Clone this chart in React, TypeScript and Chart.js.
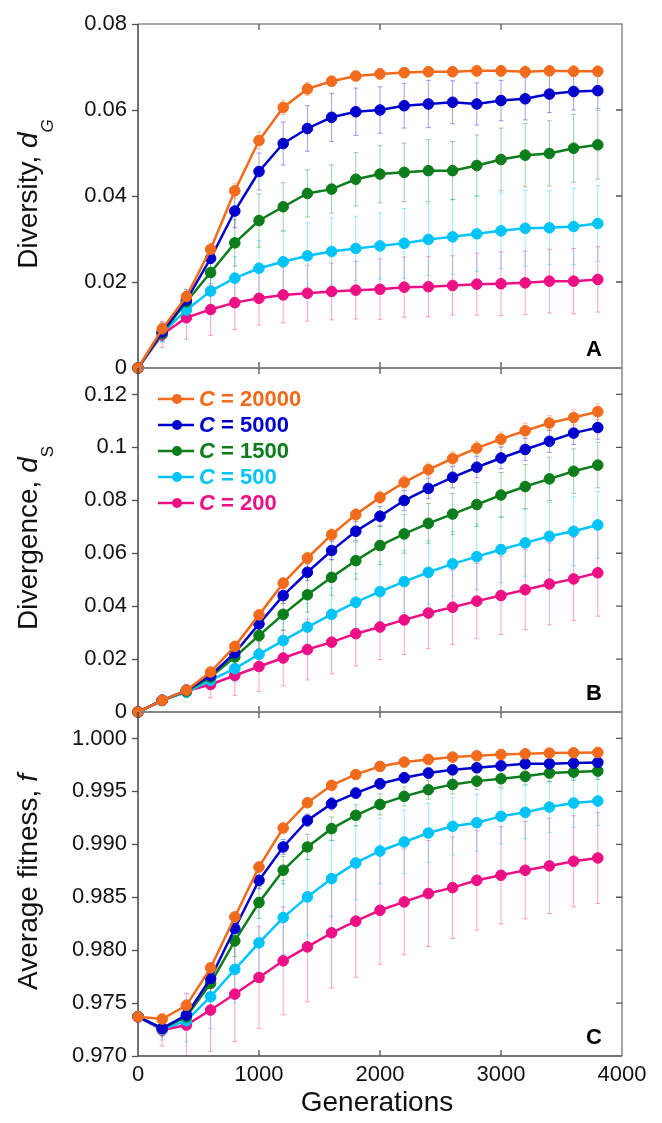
import React, { useEffect, useRef } from 'react';
import { Chart, registerables } from 'chart.js';

Chart.register(...registerables);

const FONT = '"Liberation Sans", Arial, Helvetica, sans-serif';

// ---------- data ----------
const generations = [0, 200, 400, 600, 800, 1000, 1200, 1400, 1600, 1800, 2000, 2200, 2400, 2600, 2800, 3000, 3200, 3400, 3600, 3800];
const xTickValues = [0, 1000, 2000, 3000, 4000];

const seriesNames = ['20000', '5000', '1500', '500', '200'];
const seriesColors = ['#f26a1b', '#0000cd', '#0b7d1b', '#00c3f7', '#ec0f86'];

// Panel A: diversity d_G
const diversity20000 = [0, 0.0091, 0.0166, 0.0276, 0.0412, 0.0529, 0.0606, 0.0649, 0.0667, 0.0679, 0.0684, 0.0687, 0.0689, 0.0689, 0.0691, 0.0691, 0.0689, 0.0691, 0.069, 0.069];
const diversity5000 = [0, 0.0084, 0.0158, 0.0255, 0.0365, 0.0457, 0.0522, 0.0557, 0.0583, 0.0596, 0.06, 0.061, 0.0614, 0.0618, 0.0614, 0.0622, 0.0626, 0.0637, 0.0643, 0.0645];
const diversity1500 = [0, 0.0081, 0.0154, 0.0222, 0.0291, 0.0343, 0.0375, 0.0406, 0.0416, 0.0439, 0.0451, 0.0455, 0.0459, 0.0459, 0.0471, 0.0485, 0.0495, 0.0499, 0.0511, 0.0519];
const diversity500 = [0, 0.0081, 0.0135, 0.0179, 0.0209, 0.0232, 0.0247, 0.0261, 0.0271, 0.0278, 0.0284, 0.029, 0.0299, 0.0305, 0.0312, 0.0319, 0.0325, 0.0326, 0.0329, 0.0336];
const diversity200 = [0, 0.0078, 0.0117, 0.0136, 0.0152, 0.0162, 0.017, 0.0174, 0.0178, 0.0181, 0.0183, 0.0188, 0.0189, 0.0192, 0.0195, 0.0196, 0.0198, 0.0202, 0.0202, 0.0206];

const diversityErr20000 = [0, 0.0015, 0.0012, 0.0015, 0.0018, 0.002, 0.0017, 0.0015, 0.0012, 0.0011, 0.0012, 0.0012, 0.0012, 0.0012, 0.0013, 0.0013, 0.0013, 0.0012, 0.0012, 0.0012];
const diversityErr5000 = [0, 0.002, 0.0025, 0.003, 0.0039, 0.0043, 0.005, 0.0053, 0.0056, 0.0055, 0.0054, 0.0052, 0.0055, 0.005, 0.0049, 0.0047, 0.0049, 0.0043, 0.0043, 0.0042];
const diversityErr1500 = [0, 0.002, 0.0025, 0.004, 0.0054, 0.0062, 0.0056, 0.0055, 0.0056, 0.0062, 0.0067, 0.0068, 0.0072, 0.0068, 0.0071, 0.0073, 0.0074, 0.0076, 0.0079, 0.008];
const diversityErr500 = [0, 0.002, 0.003, 0.004, 0.005, 0.0065, 0.007, 0.0077, 0.0078, 0.0075, 0.0077, 0.0081, 0.0084, 0.0087, 0.0087, 0.0088, 0.0088, 0.0086, 0.0089, 0.0088];
const diversityErr200 = [0, 0.003, 0.005, 0.006, 0.0063, 0.0062, 0.0065, 0.0065, 0.0066, 0.0067, 0.007, 0.007, 0.007, 0.0069, 0.0072, 0.0074, 0.0074, 0.0074, 0.0076, 0.0076];

// Panel B: divergence d_S
const divergence20000 = [0, 0.0044, 0.0082, 0.0151, 0.0248, 0.0367, 0.0487, 0.0582, 0.067, 0.0746, 0.0811, 0.0868, 0.0916, 0.0958, 0.0997, 0.1031, 0.1063, 0.1092, 0.1113, 0.1135];
const divergence5000 = [0, 0.0044, 0.0082, 0.0138, 0.0223, 0.0333, 0.044, 0.0528, 0.061, 0.0683, 0.074, 0.0799, 0.0845, 0.0887, 0.0925, 0.096, 0.0992, 0.1023, 0.1054, 0.1075];
const divergence1500 = [0, 0.0044, 0.0079, 0.0132, 0.0208, 0.0289, 0.0369, 0.0443, 0.0509, 0.0572, 0.0629, 0.0673, 0.0713, 0.0748, 0.0784, 0.082, 0.0852, 0.0881, 0.091, 0.0933];
const divergence500 = [0, 0.0044, 0.0075, 0.012, 0.0164, 0.0218, 0.027, 0.0321, 0.0369, 0.0415, 0.0455, 0.0493, 0.0528, 0.056, 0.0587, 0.0614, 0.0639, 0.0664, 0.0683, 0.0707];
const divergence200 = [0, 0.0044, 0.0079, 0.0104, 0.0138, 0.0172, 0.0204, 0.0236, 0.0264, 0.0296, 0.0321, 0.0348, 0.0374, 0.0396, 0.0419, 0.044, 0.0462, 0.0484, 0.0503, 0.0526];

const divergenceErr20000 = [0, 0.0008, 0.001, 0.0012, 0.0015, 0.0018, 0.002, 0.0022, 0.0022, 0.0023, 0.0024, 0.0025, 0.0025, 0.0026, 0.0027, 0.0027, 0.0028, 0.0028, 0.0029, 0.003];
const divergenceErr5000 = [0, 0.0008, 0.0012, 0.0015, 0.002, 0.0025, 0.003, 0.0032, 0.0035, 0.0036, 0.0037, 0.0038, 0.0039, 0.004, 0.004, 0.0041, 0.0042, 0.0042, 0.0043, 0.0044];
const divergenceErr1500 = [0, 0.001, 0.0015, 0.0025, 0.004, 0.005, 0.006, 0.0065, 0.0068, 0.007, 0.0072, 0.0073, 0.0075, 0.0078, 0.0083, 0.0085, 0.0083, 0.0082, 0.0084, 0.0086];
const divergenceErr500 = [0, 0.001, 0.002, 0.0035, 0.005, 0.0065, 0.0078, 0.009, 0.01, 0.0108, 0.0113, 0.0117, 0.012, 0.0122, 0.0124, 0.0125, 0.0126, 0.0128, 0.013, 0.0126];
const divergenceErr200 = [0, 0.001, 0.0025, 0.005, 0.0075, 0.0095, 0.0105, 0.0115, 0.012, 0.0122, 0.0123, 0.0131, 0.0135, 0.0141, 0.0142, 0.0147, 0.0151, 0.0155, 0.0157, 0.0164];

// Panel C: average fitness f
const fitness20000 = [0.97371, 0.97349, 0.97478, 0.97833, 0.98314, 0.98786, 0.99154, 0.99393, 0.99557, 0.9966, 0.99736, 0.99777, 0.99802, 0.99824, 0.99836, 0.99849, 0.99855, 0.99862, 0.99865, 0.99868];
const fitness5000 = [0.97371, 0.97261, 0.97387, 0.97733, 0.98204, 0.9866, 0.98975, 0.99226, 0.99384, 0.99484, 0.99572, 0.99629, 0.99673, 0.99704, 0.99723, 0.99742, 0.99761, 0.99761, 0.99767, 0.99774];
const fitness1500 = [0.97371, 0.97261, 0.97371, 0.97686, 0.98088, 0.9845, 0.98755, 0.98975, 0.99148, 0.99274, 0.99377, 0.99453, 0.99516, 0.99566, 0.99597, 0.99619, 0.99642, 0.99673, 0.99682, 0.99692];
const fitness500 = [0.97371, 0.97252, 0.97333, 0.9756, 0.97818, 0.98069, 0.98308, 0.98503, 0.98676, 0.98824, 0.98937, 0.99022, 0.99107, 0.9917, 0.99204, 0.99264, 0.99302, 0.99352, 0.9939, 0.99409];
const fitness200 = [0.97371, 0.97245, 0.97292, 0.97434, 0.97585, 0.97742, 0.97899, 0.98031, 0.98164, 0.98274, 0.98377, 0.98456, 0.98535, 0.98591, 0.9866, 0.98708, 0.98755, 0.98796, 0.9884, 0.98871];

const fitnessErr20000 = [0, 0.0003, 0.0004, 0.0004, 0.0004, 0.0004, 0.0003, 0.0003, 0.0003, 0.0002, 0.0002, 0.0002, 0.0002, 0.0002, 0.0002, 0.0002, 0.0002, 0.0002, 0.0002, 0.0002];
const fitnessErr5000 = [0, 0.0006, 0.0007, 0.0008, 0.0008, 0.0008, 0.0007, 0.0006, 0.0006, 0.0005, 0.0005, 0.0005, 0.0005, 0.0004, 0.0004, 0.0004, 0.0004, 0.0004, 0.0004, 0.0004];
const fitnessErr1500 = [0, 0.0008, 0.001, 0.0012, 0.0015, 0.0015, 0.0013, 0.0012, 0.0011, 0.001, 0.001, 0.0009, 0.0009, 0.0009, 0.0008, 0.0008, 0.0008, 0.0008, 0.0008, 0.0008];
const fitnessErr500 = [0, 0.001, 0.002, 0.003, 0.0032, 0.0034, 0.0035, 0.0036, 0.0036, 0.0035, 0.0031, 0.003, 0.0028, 0.0027, 0.0027, 0.0026, 0.0025, 0.0024, 0.0023, 0.0023];
const fitnessErr200 = [0, 0.0015, 0.003, 0.0039, 0.0045, 0.0048, 0.0051, 0.0052, 0.0052, 0.0053, 0.0051, 0.005, 0.005, 0.0048, 0.0047, 0.0046, 0.0046, 0.0045, 0.0043, 0.0043];

const yTicksA = [0, 0.02, 0.04, 0.06, 0.08];
const yTicksB = [0, 0.02, 0.04, 0.06, 0.08, 0.1, 0.12];
const yTicksC = [0.97, 0.975, 0.98, 0.985, 0.99, 0.995, 1.0];

// ---------- helpers ----------
type Part = { t: string; font: string; dy: number };

function hexToRgba(hex: string, a: number) {
  const n = parseInt(hex.slice(1), 16);
  return `rgba(${(n >> 16) & 255},${(n >> 8) & 255},${n & 255},${a})`;
}

function drawParts(ctx: CanvasRenderingContext2D, parts: Part[], startX: number, baseY: number, color: string) {
  let x = startX;
  ctx.fillStyle = color;
  ctx.textBaseline = 'alphabetic';
  ctx.textAlign = 'left';
  for (const p of parts) {
    ctx.font = p.font;
    ctx.fillText(p.t, x, baseY + p.dy);
    x += ctx.measureText(p.t).width;
  }
}

function partsWidth(ctx: CanvasRenderingContext2D, parts: Part[]) {
  let w = 0;
  for (const p of parts) {
    ctx.font = p.font;
    w += ctx.measureText(p.t).width;
  }
  return w;
}

type PanelSpec = {
  letter: string;
  series: number[][];
  errors: number[][];
  yMin: number;
  yMax: number;
  yTicks: number[];
  fmt: (v: number) => string;
  padTop: number;
  padBottom: number;
  showX: boolean;
  title: Part[];
  legend: boolean;
};

const titleFont = `28px ${FONT}`;
const titleItalic = `italic 28px ${FONT}`;

const panels: PanelSpec[] = [
  {
    letter: 'A',
    series: [diversity20000, diversity5000, diversity1500, diversity500, diversity200],
    errors: [diversityErr20000, diversityErr5000, diversityErr1500, diversityErr500, diversityErr200],
    yMin: 0, yMax: 0.08, yTicks: yTicksA,
    fmt: (v) => (v === 0 ? '0' : String(+v.toFixed(4))),
    padTop: 24, padBottom: 1123 - 368, showX: false,
    title: [
      { t: 'Diversity, ', font: titleFont, dy: 0 },
      { t: 'd', font: titleItalic, dy: 0 },
      { t: 'G', font: `italic 17px ${FONT}`, dy: 16 },
    ],
    legend: false,
  },
  {
    letter: 'B',
    series: [divergence20000, divergence5000, divergence1500, divergence500, divergence200],
    errors: [divergenceErr20000, divergenceErr5000, divergenceErr1500, divergenceErr500, divergenceErr200],
    yMin: 0, yMax: 0.13, yTicks: yTicksB,
    fmt: (v) => (v === 0 ? '0' : String(+v.toFixed(4))),
    padTop: 368, padBottom: 1123 - 712, showX: false,
    title: [
      { t: 'Divergence, ', font: titleFont, dy: 0 },
      { t: 'd', font: titleItalic, dy: 0 },
      { t: 'S', font: `17px ${FONT}`, dy: 16 },
    ],
    legend: true,
  },
  {
    letter: 'C',
    series: [fitness20000, fitness5000, fitness1500, fitness500, fitness200],
    errors: [fitnessErr20000, fitnessErr5000, fitnessErr1500, fitnessErr500, fitnessErr200],
    yMin: 0.97, yMax: 1.0025, yTicks: yTicksC,
    fmt: (v) => v.toFixed(3),
    padTop: 712, padBottom: 0, showX: true,
    title: [
      { t: 'Average fitness, ', font: titleFont, dy: 0 },
      { t: 'f', font: titleItalic, dy: 0 },
    ],
    legend: false,
  },
];

function makeDecor(spec: PanelSpec) {
  return {
    id: 'decor' + spec.letter,
    beforeDatasetsDraw(chart: any) {
      const { ctx, chartArea: a, scales } = chart;
      const xs = scales.x;
      const ys = scales.y;
      // error bars
      ctx.save();
      ctx.beginPath();
      ctx.rect(a.left, a.top, a.right - a.left, a.bottom - a.top);
      ctx.clip();
      ctx.lineWidth = 1;
      for (let si = spec.series.length - 1; si >= 0; si--) {
        ctx.strokeStyle = hexToRgba(seriesColors[si], 0.38);
        const vals = spec.series[si];
        const errs = spec.errors[si];
        vals.forEach((v, i) => {
          const e = errs[i];
          if (!e) return;
          const px = xs.getPixelForValue(generations[i]);
          const y1 = ys.getPixelForValue(v - e);
          const y2 = ys.getPixelForValue(v + e);
          ctx.beginPath();
          ctx.moveTo(px, y1);
          ctx.lineTo(px, y2);
          ctx.moveTo(px - 2.5, y1);
          ctx.lineTo(px + 2.5, y1);
          ctx.moveTo(px - 2.5, y2);
          ctx.lineTo(px + 2.5, y2);
          ctx.stroke();
        });
      }
      ctx.restore();

      // frame
      ctx.save();
      ctx.lineWidth = 1.5;
      ctx.strokeStyle = '#8a8a8a';
      ctx.beginPath();
      ctx.moveTo(a.left, a.top);
      ctx.lineTo(a.right, a.top);
      ctx.lineTo(a.right, a.bottom);
      ctx.stroke();
      ctx.strokeStyle = '#444';
      ctx.beginPath();
      ctx.moveTo(a.left, a.top);
      ctx.lineTo(a.left, a.bottom);
      ctx.lineTo(a.right, a.bottom);
      ctx.stroke();
      // inward ticks
      ctx.strokeStyle = '#555';
      ctx.lineWidth = 1.3;
      ctx.beginPath();
      xTickValues.forEach((v) => {
        const px = xs.getPixelForValue(v);
        if (px <= a.left + 1 || px >= a.right - 1) return;
        ctx.moveTo(px, a.top);
        ctx.lineTo(px, a.top + 6);
        ctx.moveTo(px, a.bottom);
        ctx.lineTo(px, a.bottom - 6);
      });
      spec.yTicks.forEach((v) => {
        const py = ys.getPixelForValue(v);
        if (py <= a.top + 1 || py >= a.bottom - 1) return;
        ctx.moveTo(a.right, py);
        ctx.lineTo(a.right - 6, py);
      });
      ctx.stroke();
      ctx.restore();
    },
    afterDraw(chart: any) {
      const { ctx, chartArea: a } = chart;
      ctx.save();
      // panel letter
      ctx.font = `bold 22px ${FONT}`;
      ctx.fillStyle = '#000';
      ctx.textAlign = 'right';
      ctx.textBaseline = 'alphabetic';
      ctx.fillText(spec.letter, a.right - 20, a.bottom - 12);

      // y title (rotated)
      const cy = (a.top + a.bottom) / 2 - 2;
      ctx.save();
      ctx.translate(37, cy);
      ctx.rotate(-Math.PI / 2);
      const w = partsWidth(ctx, spec.title);
      drawParts(ctx, spec.title, -w / 2, 0, '#111');
      ctx.restore();

      // x title
      if (spec.showX) {
        ctx.font = `28px ${FONT}`;
        ctx.fillStyle = '#111';
        ctx.textAlign = 'center';
        ctx.textBaseline = 'alphabetic';
        ctx.fillText('Generations', (a.left + a.right) / 2 - 3, a.bottom + 55);
      }

      // legend
      if (spec.legend) {
        seriesNames.forEach((name, i) => {
          const ry = a.top + 31 + i * 26;
          const col = seriesColors[i];
          ctx.strokeStyle = col;
          ctx.lineWidth = 2.5;
          ctx.beginPath();
          ctx.moveTo(a.left + 20, ry);
          ctx.lineTo(a.left + 56, ry);
          ctx.stroke();
          ctx.fillStyle = col;
          ctx.beginPath();
          ctx.arc(a.left + 39, ry, 5, 0, Math.PI * 2);
          ctx.fill();
          ctx.textBaseline = 'middle';
          ctx.textAlign = 'left';
          let tx = a.left + 61;
          ctx.font = `italic bold 22px ${FONT}`;
          ctx.fillText('C', tx, ry + 1);
          tx += ctx.measureText('C').width;
          ctx.font = `bold 22px ${FONT}`;
          ctx.fillText(' = ' + name, tx, ry + 1);
        });
      }
      ctx.restore();
    },
  };
}

function buildConfig(spec: PanelSpec): any {
  const datasets = spec.series.map((vals, si) => ({
    label: 'C = ' + seriesNames[si],
    data: vals.map((v, i) => ({ x: generations[i], y: v })),
    borderColor: seriesColors[si],
    backgroundColor: seriesColors[si],
    pointBackgroundColor: seriesColors[si],
    pointBorderColor: seriesColors[si],
    borderWidth: 2.5,
    pointRadius: 5.3,
    pointBorderWidth: 1,
    tension: 0,
    clip: false,
  }));
  return {
    type: 'line',
    data: { datasets },
    plugins: [makeDecor(spec)],
    options: {
      responsive: false,
      animation: false,
      devicePixelRatio: 1,
      layout: { padding: { top: spec.padTop, bottom: spec.padBottom, left: 0, right: 40 } },
      plugins: { legend: { display: false }, tooltip: { enabled: false }, title: { display: false } },
      events: [],
      scales: {
        x: {
          type: 'linear',
          min: 0,
          max: 4000,
          display: spec.showX,
          afterBuildTicks: (scale: any) => {
            scale.ticks = xTickValues.map((v) => ({ value: v }));
          },
          afterFit: (scale: any) => {
            if (spec.showX) scale.height = 67;
          },
          grid: { display: false, drawOnChartArea: false, drawTicks: false },
          border: { display: false },
          ticks: {
            font: { size: 22, family: FONT },
            color: '#111',
            padding: 6,
            maxRotation: 0,
            autoSkip: false,
            callback: (v: any) => String(v),
          },
        },
        y: {
          type: 'linear',
          position: 'left',
          min: spec.yMin,
          max: spec.yMax,
          afterBuildTicks: (scale: any) => {
            scale.ticks = spec.yTicks.map((v) => ({ value: v }));
          },
          afterFit: (scale: any) => {
            scale.width = 138;
          },
          grid: { display: true, drawOnChartArea: false, drawTicks: true, tickLength: 6, tickColor: '#555', tickWidth: 1.3 },
          border: { display: false },
          ticks: {
            font: { size: 22, family: FONT },
            color: '#111',
            padding: 5,
            autoSkip: false,
            callback: (v: any) => spec.fmt(Number(v)),
          },
        },
      },
    },
  };
}

export default function App() {
  const refs = useRef<(HTMLCanvasElement | null)[]>([]);
  useEffect(() => {
    const charts = panels.map((p, i) => new Chart(refs.current[i] as HTMLCanvasElement, buildConfig(p)));
    return () => charts.forEach((c) => c.destroy());
  }, []);
  return (
    <div style={{ position: 'absolute', left: 0, top: 0, width: 662, height: 1123, background: '#fff' }}>
      {panels.map((p, i) => (
        <canvas
          key={p.letter}
          ref={(el) => { refs.current[i] = el; }}
          width={662}
          height={1123}
          style={{ position: 'absolute', left: 0, top: 0 }}
        />
      ))}
    </div>
  );
}
